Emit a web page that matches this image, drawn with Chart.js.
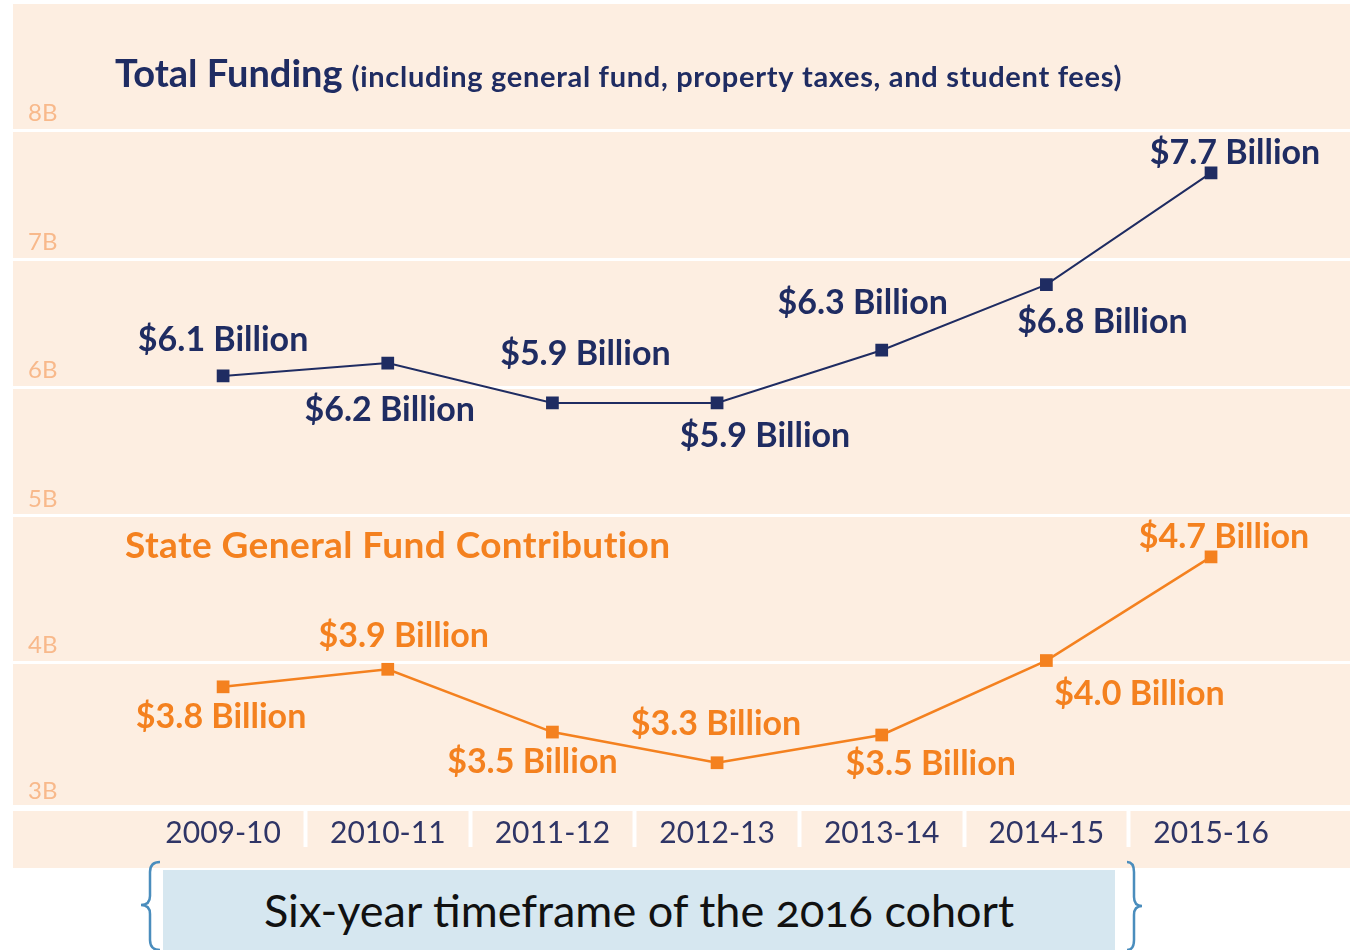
<!DOCTYPE html>
<html lang="en">
<head>
  <meta charset="UTF-8" />
  <title>Total Funding and State General Fund Contribution</title>
  <script src="https://cdn.jsdelivr.net/npm/chart.js"></script>
  <style>
    body {
      margin: 0;
      width: 1350px;
      height: 950px;
      position: relative;
      overflow: hidden;
      background: #fff;
      font-family: Lato, sans-serif;
    }
    .chart-wrap {
      position: absolute;
      left: 13px;
      top: 4px;
      width: 1337px;
      height: 864px;
      background: #fdeee1;
    }
    .cohort {
      position: absolute;
      left: 163px;
      top: 870px;
      width: 952px;
      height: 80px;
      background: #d6e7f0;
      color: #111;
      font-size: 45px;
      line-height: 80px;
      text-align: center;
      font-variant-numeric: oldstyle-nums;
    }
    svg.braces {
      position: absolute;
      left: 0;
      top: 0;
    }
  </style>
</head>
<body>
  <div class="chart-wrap">
    <canvas id="fundingChart" width="1337" height="864"></canvas>
  </div>
  <div class="cohort">Six-year timeframe of the 2016 cohort</div>
  <svg class="braces" width="1350" height="950">
    <path d="M160 862 Q150 862 150 872 L150 896 Q150 905 141 905 Q150 905 150 914 L150 940 Q150 950 160 950"
          fill="none" stroke="#4a8dbd" stroke-width="2.5" />
    <path d="M1127 862 Q1134 862 1134 872 L1134 897 Q1134 906 1142 906 Q1134 906 1134 915 L1134 940 Q1134 950 1127 950"
          fill="none" stroke="#4a8dbd" stroke-width="2.5" />
  </svg>

  <script>
    const years = ["2009-10", "2010-11", "2011-12", "2012-13", "2013-14", "2014-15", "2015-16"];
    // billions
    const totalFunding = [6.09, 6.19, 5.88, 5.88, 6.29, 6.80, 7.67];
    const stateFund = [3.83, 3.95, 3.52, 3.31, 3.50, 4.01, 4.72];
    // value labels as printed on the chart
    const totalLabels = ["$6.1 Billion", "$6.2 Billion", "$5.9 Billion", "$5.9 Billion", "$6.3 Billion", "$6.8 Billion", "$7.7 Billion"];
    const stateLabels = ["$3.8 Billion", "$3.9 Billion", "$3.5 Billion", "$3.3 Billion", "$3.5 Billion", "$4.0 Billion", "$4.7 Billion"];

    const NAVY = "#1f2c62";
    const ORANGE = "#f4811f";

    // where each value label sits relative to its marker (dx, dy)
    const totalLabelOffsets = [[0, -36], [2, 47], [33, -49], [48, 33], [-19, -47], [56, 37], [24, -20]];
    const stateLabelOffsets = [[-2, 30], [16, -33], [-20, 30], [-1, -39], [49, 29], [93, 33], [13, -20]];

    const textPlugin = {
      id: "textPlugin",
      afterDatasetsDraw(chart) {
        const ctx = chart.ctx;
        ctx.save();
        ctx.textAlign = "left";
        ctx.textBaseline = "alphabetic";

        ctx.fillStyle = NAVY;
        ctx.font = "bold 38px Lato";
        ctx.fillText("Total Funding", 102, 83);
        const w = ctx.measureText("Total Funding").width;
        ctx.font = "bold 29px Lato";
        ctx.letterSpacing = "0.7px";
        ctx.fillText("(including general fund, property taxes, and student fees)", 102 + w + 9, 83);

        ctx.fillStyle = ORANGE;
        ctx.font = "bold 37px Lato";
        ctx.letterSpacing = "0.4px";
        ctx.fillText("State General Fund Contribution", 112, 554);

        ctx.letterSpacing = "0px";
        ctx.textAlign = "center";
        ctx.textBaseline = "middle";
        ctx.font = "bold 34px Lato";
        const sets = [[totalLabels, totalLabelOffsets, NAVY], [stateLabels, stateLabelOffsets, ORANGE]];
        sets.forEach(([labels, offsets, color], d) => {
          const meta = chart.getDatasetMeta(d);
          ctx.fillStyle = color;
          meta.data.forEach((pt, i) => {
            ctx.fillText(labels[i], pt.x + offsets[i][0], pt.y + offsets[i][1]);
          });
        });
        ctx.restore();
      }
    };

    function toPoints(values) {
      return values.map((v, i) => ({ x: i, y: v }));
    }

    const yTickFont = { family: "Lato", size: 24 };

    new Chart(document.getElementById("fundingChart"), {
      type: "line",
      data: {
        datasets: [
          {
            label: "Total Funding",
            data: toPoints(totalFunding),
            yAxisID: "yTop",
            borderColor: NAVY,
            backgroundColor: NAVY,
            borderWidth: 2,
            pointStyle: "rect",
            pointRadius: 9,
            pointHoverRadius: 9,
            pointBorderWidth: 0
          },
          {
            label: "State General Fund Contribution",
            data: toPoints(stateFund),
            yAxisID: "yBottom",
            borderColor: ORANGE,
            backgroundColor: ORANGE,
            borderWidth: 2.5,
            pointStyle: "rect",
            pointRadius: 9,
            pointHoverRadius: 9,
            pointBorderWidth: 0
          }
        ]
      },
      options: {
        responsive: false,
        animation: false,
        layout: { autoPadding: false, padding: { top: 126.5, left: 0, right: 0, bottom: 0 } },
        plugins: {
          legend: { display: false },
          tooltip: { enabled: false },
          title: { display: false }
        },
        scales: {
          x: {
            type: "linear",
            min: -1.276,
            max: 6.844,
            afterBuildTicks: scale => {
              scale.ticks = years.map((_, i) => ({ value: i }));
            },
            afterFit: scale => { scale.height = 60; },
            border: { display: false },
            grid: {
              offset: true,
              drawOnChartArea: false,
              drawTicks: true,
              tickLength: 39,
              tickWidth: 4,
              tickColor: c => (c.type === "tick" && c.index >= 1 && c.index <= 6 ? "#ffffff" : "rgba(0,0,0,0)")
            },
            ticks: {
              autoSkip: false,
              maxRotation: 0,
              padding: -32,
              color: "#2f3566",
              font: { family: "Lato", size: 30 },
              callback: v => years[v]
            }
          },
          // stacked axes: the one defined first is laid out lowest
          yBottom: {
            type: "linear",
            position: "left",
            stack: "funding",
            stackWeight: 292,
            min: 3,
            max: 5,
            afterFit: scale => { scale.width = 0; },
            border: { display: false },
            grid: {
              color: "#ffffff",
              lineWidth: c => (c.tick && c.tick.value === 3 ? 6 : 3),
              drawTicks: false
            },
            ticks: {
              stepSize: 1,
              mirror: true,
              padding: 15,
              labelOffset: -17,
              color: "#f8b98b",
              font: yTickFont,
              callback: v => (v === 5 ? "" : v + "B")
            }
          },
          yTop: {
            type: "linear",
            position: "left",
            stack: "funding",
            stackWeight: 385.5,
            min: 5,
            max: 8,
            afterFit: scale => { scale.width = 0; },
            border: { display: false },
            grid: { color: "#ffffff", lineWidth: 3, drawTicks: false },
            ticks: {
              stepSize: 1,
              mirror: true,
              padding: 15,
              labelOffset: -17,
              color: "#f8b98b",
              font: yTickFont,
              callback: v => v + "B"
            }
          }
        }
      },
      plugins: [textPlugin]
    });
  </script>
</body>
</html>
